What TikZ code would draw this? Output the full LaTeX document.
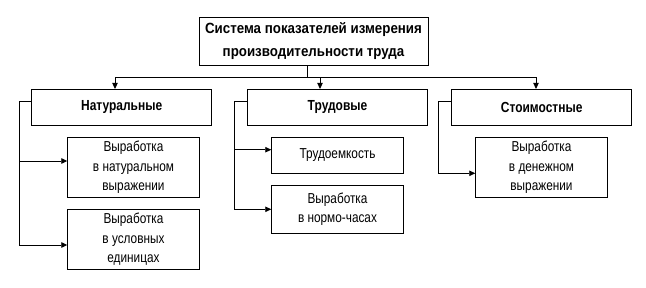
\documentclass[tikz,border=0pt]{standalone}
\usepackage{fontspec}
\setmainfont[FakeStretch=0.82]{Liberation Sans}
\newfontfamily\topfont[FakeStretch=0.9]{Liberation Sans}
\usetikzlibrary{arrows.meta}
\begin{document}
\begin{tikzpicture}[x=1pt,y=-1pt,
  box/.style={draw,line width=0.9pt,rectangle,inner sep=0pt,align=center},
  hbox/.style={box,minimum height=35.7pt,minimum width=180pt,font=\bfseries\fontsize{14.6}{19}\selectfont},
  cbox/.style={box,minimum width=131.6pt,font=\fontsize{14.4}{19.5}\selectfont},
  ln/.style={line width=0.9pt},
  arr/.style={ln,-{Triangle[length=6pt,width=5.5pt]}}]
\useasboundingbox (0,0) rectangle (646,287);
\node[box,minimum width=229pt,minimum height=48pt,font=\topfont\bfseries\fontsize{14.8}{23.4}\selectfont] (top) at (313.5,41) {Система показателей измерения\\производительности труда};
\node[hbox] (nat) at (121.7,107.2) {Натуральные};
\node[hbox] (trud) at (337.5,107.2) {Трудовые};
\node[hbox] (stoim) at (541.7,107.2) {Стоимостные};
\node[cbox,minimum height=60pt] (n1) at (133.5,167.3) {Выработка\\в натуральном\\выражении};
\node[cbox,minimum height=60pt] (n2) at (133.5,239.3) {Выработка\\в условных\\единицах};
\node[cbox,minimum height=36pt] (t1) at (337.5,155.3) {Трудоемкость};
\node[cbox,minimum height=48pt] (t2) at (337.5,209.3) {Выработка\\в нормо-часах};
\node[cbox,minimum height=60pt] (s1) at (541.5,167.3) {Выработка\\в денежном\\выражении};
% top bus
\coordinate (j) at (307.7,77.3);
\coordinate (an) at ([xshift=-6.7pt]nat.north);
\coordinate (at) at ([xshift=-17.5pt]trud.north);
\coordinate (as) at ([xshift=-5.7pt]stoim.north);
\draw[ln] ([xshift=-5.8pt]top.south) -- (j);
\draw[ln] (an |- j) -- (as |- j);
\draw[arr] (an |- j) -- (an);
\draw[arr] (at |- j) -- (at);
\draw[arr] (as |- j) -- (as);
% natural feeder
\coordinate (fn) at ([xshift=-11.7pt,yshift=6pt]nat.west);
\coordinate (n1a) at ([yshift=6.3pt]n1.west);
\draw[ln] ([yshift=6pt]nat.west) -- (fn);
\draw[arr] (fn) |- ([yshift=-5.7pt]n2.west);
\draw[arr] (fn |- n1a) -- (n1a);
% labour feeder
\coordinate (ft) at ([xshift=-12.4pt,yshift=6pt]trud.west);
\coordinate (t1a) at ([yshift=5.6pt]t1.west);
\draw[ln] ([yshift=6pt]trud.west) -- (ft);
\draw[arr] (ft) |- (t2.west);
\draw[arr] (ft |- t1a) -- (t1a);
% cost feeder
\coordinate (fs) at ([xshift=-12.4pt,yshift=6pt]stoim.west);
\draw[ln] ([yshift=6pt]stoim.west) -- (fs);
\draw[arr] (fs) |- ([yshift=-6pt]s1.west);
\end{tikzpicture}
\end{document}
